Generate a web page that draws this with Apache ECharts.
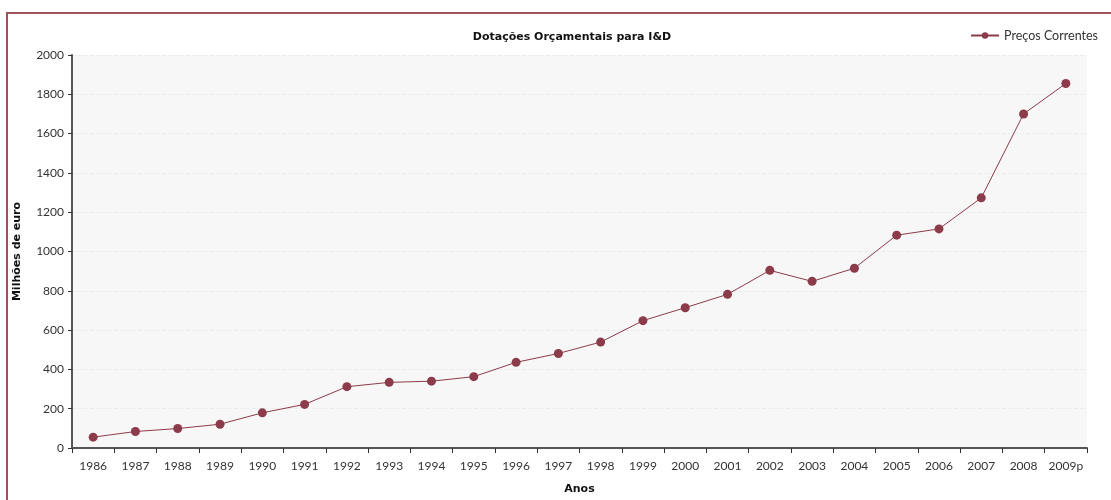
<!DOCTYPE html>
<html>
<head>
<meta charset="utf-8">
<script src="https://cdn.jsdelivr.net/npm/echarts@6/dist/echarts.min.js"></script>
<style>
html,body{margin:0;padding:0;background:#fff;}
#frame{position:absolute;left:6px;top:12px;width:1200px;height:600px;border-top:2px solid #a0525c;border-left:2px solid #a0525c;box-sizing:border-box;}
#main{position:absolute;left:0;top:0;width:1111px;height:500px;}
</style>
</head>
<body>
<div id="frame"></div>
<div id="main"></div>
<script>
const years = ['1986','1987','1988','1989','1990','1991','1992','1993','1994','1995','1996','1997','1998','1999','2000','2001','2002','2003','2004','2005','2006','2007','2008','2009p'];
const precosCorrentes = [55,84,99,121,179,222,312,334,340,363,436,481,539,648,714,782,904,848,915,1083,1115,1273,1700,1855];
const yTicks = {min:0, max:2000, interval:200};

const font = "'Lato', 'DejaVu Sans', sans-serif";
const titleFont = "'DejaVu Sans', sans-serif";
const chart = echarts.init(document.getElementById('main'), null, {renderer:'canvas'});
chart.setOption({
  animation:false,
  title:{
    text:'Dotações Orçamentais para I&D',
    left:567, top:27, textAlign:'center',
    textStyle:{fontFamily:titleFont, fontSize:11, fontWeight:'bold', color:'#111'}
  },
  legend:{
    right:8, top:24,
    itemWidth:28, itemHeight:8, itemGap:4,
    textStyle:{fontFamily:font, fontSize:12.5, color:'#333'},
    data:['Preços Correntes']
  },
  grid:{left:72, right:24, top:55, bottom:52, show:true, backgroundColor:'#f7f7f7', borderWidth:0},
  xAxis:{
    type:'category', data:years, boundaryGap:true,
    name:'Anos', nameLocation:'middle', nameGap:36,
    nameTextStyle:{fontFamily:titleFont, fontSize:11, fontWeight:'bold', color:'#111'},
    axisLine:{lineStyle:{color:'#555', width:2}},
    axisTick:{show:true, alignWithLabel:false, length:5, lineStyle:{color:'#333'}},
    axisLabel:{fontFamily:font, fontSize:12, color:'#333', margin:12, interval:0}
  },
  yAxis:{
    type:'value', min:yTicks.min, max:yTicks.max, interval:yTicks.interval,
    name:'Milhões de euro', nameLocation:'middle', nameGap:49, nameRotate:90,
    nameTextStyle:{fontFamily:titleFont, fontSize:11, fontWeight:'bold', color:'#111'},
    axisLine:{show:true, lineStyle:{color:'#555', width:2}},
    axisTick:{show:true, length:4, lineStyle:{color:'#333'}},
    axisLabel:{fontFamily:font, fontSize:12, color:'#333', margin:8, formatter:function(v){return String(v);}},
    splitLine:{show:true, lineStyle:{color:'#ececec', type:'dashed'}}
  },
  series:[{
    name:'Preços Correntes', type:'line', data:precosCorrentes,
    symbol:'circle', symbolSize:9,
    lineStyle:{color:'#8c3b4b', width:1},
    itemStyle:{color:'#8c3b4b'}
  }]
});
</script>
</body>
</html>
